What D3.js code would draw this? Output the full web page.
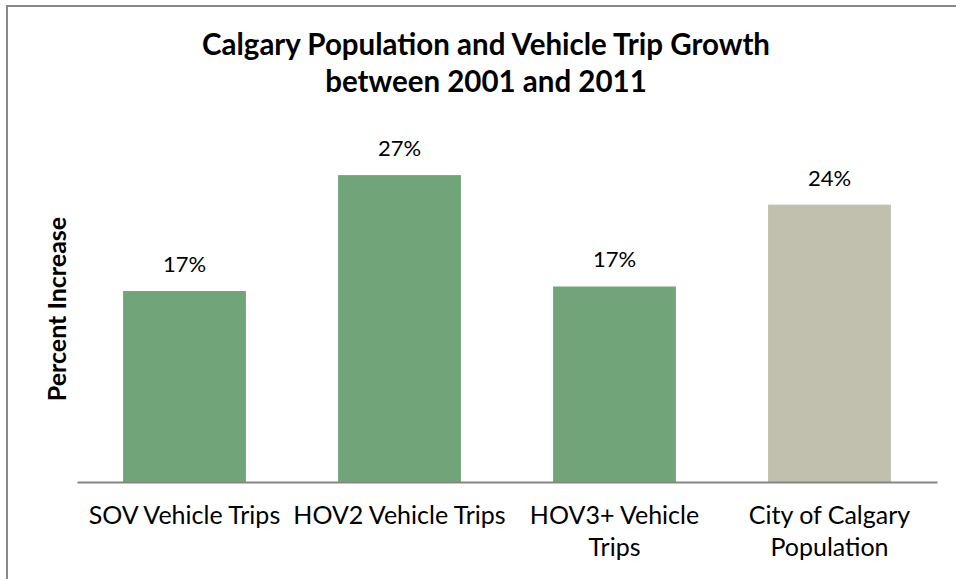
<!DOCTYPE html>
<html>
<head>
<meta charset="utf-8">
<script src="https://cdn.jsdelivr.net/npm/d3@7"></script>
<style>
  html, body { margin: 0; padding: 0; background: #ffffff; }
  svg { display: block; font-family: Lato, "Open Sans", sans-serif; }
</style>
</head>
<body>
<svg id="chart" width="956" height="579"></svg>
<script>
// Growth categories and their percent increase, 2001 to 2011
const categories = ["SOV Vehicle Trips", "HOV2 Vehicle Trips", "HOV3+ Vehicle Trips", "City of Calgary Population"];
const categoryLines = [["SOV Vehicle Trips"], ["HOV2 Vehicle Trips"], ["HOV3+ Vehicle", "Trips"], ["City of Calgary", "Population"]];
const growth = [0.168, 0.27, 0.172, 0.244];
const barColors = ["#72a47a", "#72a47a", "#72a47a", "#c1bfae"];
const titleLines = ["Calgary Population and Vehicle Trip Growth", "between 2001 and 2011"];
const yAxisTitle = "Percent Increase";
const yDomain = [0, 0.30];

const plot = { left: 77, right: 937, top: 141, bottom: 482 };

const svg = d3.select("#chart");

// chart frame (runs off the right and bottom edges)
svg.append("rect")
  .attr("x", 7).attr("y", 6)
  .attr("width", 980).attr("height", 600)
  .attr("fill", "#ffffff")
  .attr("stroke", "#878787").attr("stroke-width", 2);

const x = d3.scaleBand()
  .domain(categories)
  .range([plot.left, plot.right])
  .paddingInner(0.4286)
  .paddingOuter(0.2143);

const y = d3.scaleLinear().domain(yDomain).range([plot.bottom, plot.top]);

const data = categories.map((c, i) => ({ cat: c, v: growth[i], color: barColors[i], lines: categoryLines[i] }));

// bars
svg.append("g").selectAll("rect")
  .data(data)
  .join("rect")
  .attr("x", d => x(d.cat))
  .attr("y", d => y(d.v))
  .attr("width", x.bandwidth())
  .attr("height", d => y(0) - y(d.v))
  .attr("fill", d => d.color);

// value labels
const pct = d3.format(".0%");
svg.append("g").selectAll("text")
  .data(data)
  .join("text")
  .attr("x", d => x(d.cat) + x.bandwidth() / 2)
  .attr("y", d => y(d.v) - 19)
  .attr("text-anchor", "middle")
  .attr("font-size", 22)
  .attr("fill", "#000")
  .text(d => pct(d.v));

// category axis along the baseline
const xAxis = svg.append("g")
  .attr("transform", `translate(0,${plot.bottom})`)
  .call(d3.axisBottom(x).tickSize(0).tickFormat(""));
xAxis.select(".domain").attr("stroke", "#868686").attr("stroke-width", 2);

// wrapped category labels
const catLabels = svg.append("g").selectAll("text")
  .data(data)
  .join("text")
  .attr("text-anchor", "middle")
  .attr("font-size", 25)
  .attr("fill", "#000");
catLabels.each(function(d) {
  const t = d3.select(this);
  d.lines.forEach((line, k) => {
    t.append("tspan")
      .attr("x", x(d.cat) + x.bandwidth() / 2)
      .attr("y", 524 + k * 31.7)
      .text(line);
  });
});

// y axis title
svg.append("text")
  .attr("transform", `translate(66,309) rotate(-90)`)
  .attr("text-anchor", "middle")
  .attr("font-size", 25)
  .attr("font-weight", "bold")
  .attr("fill", "#000")
  .text(yAxisTitle);

// chart title
svg.append("g").selectAll("text")
  .data(titleLines)
  .join("text")
  .attr("x", 486)
  .attr("y", (d, i) => 55 + i * 37)
  .attr("text-anchor", "middle")
  .attr("font-size", 29.5)
  .attr("font-weight", "bold")
  .attr("fill", "#000")
  .text(d => d);
</script>
</body>
</html>
